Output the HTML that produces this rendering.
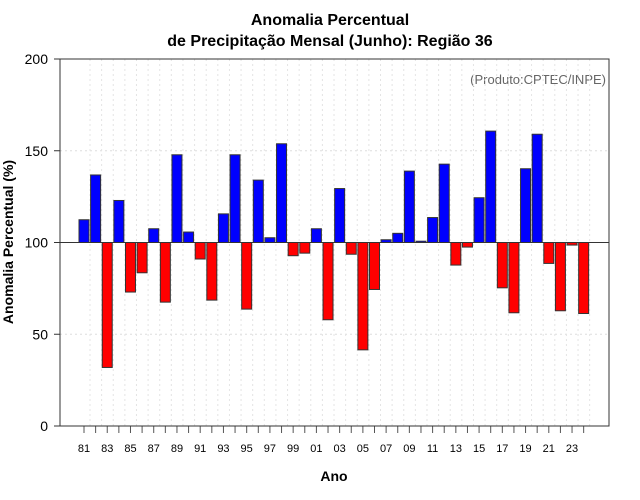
<!DOCTYPE html>
<html><head><meta charset="utf-8"><style>
body{margin:0;background:#fff;}
svg{display:block;font-family:"Liberation Sans",sans-serif;}
</style></head><body>
<svg id="chart" width="640" height="500" viewBox="0 0 640 500">
<rect width="640" height="500" fill="#fff"/>
<text x="330" y="25" text-anchor="middle" font-size="16" font-weight="bold">Anomalia Percentual</text>
<text x="330" y="46" text-anchor="middle" font-size="16" font-weight="bold">de Precipitação Mensal (Junho): Região 36</text>
<text x="606" y="84" text-anchor="end" font-size="13" fill="#666">(Produto:CPTEC/INPE)</text>
<text transform="translate(13,242) rotate(-90)" text-anchor="middle" font-size="14" font-weight="bold">Anomalia Percentual (%)</text>
<text x="334" y="481" text-anchor="middle" font-size="14" font-weight="bold">Ano</text>
<g id="grid"></g><g id="bars"></g><g id="axes"></g>
</svg>
<script>
const years=[81,82,83,84,85,86,87,88,89,90,91,92,93,94,95,96,97,98,99,0,1,2,3,4,5,6,7,8,9,10,11,12,13,14,15,16,17,18,19,20,21,22,23,24];
const values=[112.4,136.8,31.9,122.9,73,83.5,107.5,67.5,147.8,105.7,91,68.6,115.6,147.8,63.7,134,102.6,153.8,92.8,94.2,107.5,57.9,129.4,93.6,41.5,74.4,101.5,105,138.9,100.7,113.6,142.7,87.7,97.5,124.4,160.7,75.3,61.7,140.2,159,88.6,62.8,98.6,61.3];
const yTicks=[0,50,100,150,200];
const baseline=100;
const L=60,R=609,T=59,B=426;
const NS="http://www.w3.org/2000/svg";
function y(v){return B-(v/200)*(B-T);}
function x(i){return 84+i*11.62;}
function mk(tag,attrs,parent){const e=document.createElementNS(NS,tag);for(const k in attrs)e.setAttribute(k,attrs[k]);parent.appendChild(e);return e;}
const grid=document.getElementById('grid'),bars=document.getElementById('bars'),axes=document.getElementById('axes');
yTicks.forEach(t=>{
  if(t>0&&t<200){const g=mk('line',{x1:L,x2:R,y1:y(t),y2:y(t),stroke:'#ddd','stroke-dasharray':'2,3'},grid);
  
  }
  const tk=mk('line',{x1:L-6,x2:L,y1:y(t),y2:y(t),stroke:'#333'},axes);
  
  
  const tl=mk('text',{x:L-12,y:y(t)+5,'text-anchor':'end','font-size':14},axes);
  tl.textContent=t;
  
  
});
years.forEach((yr,i)=>{
  const g=mk('line',{x1:x(i)+6,x2:x(i)+6,y1:T,y2:B,stroke:'#e4e4e4','stroke-dasharray':'2,3'},grid);
  
  
  const v=values[i];
  const top=y(Math.max(v,baseline)),bot=y(Math.min(v,baseline));
  const r=mk('rect',{x:x(i)-5,y:top,width:10,height:Math.max(bot-top,0.5),fill:v>=baseline?'#0000ff':'#ff0000',stroke:'#333','stroke-width':1},bars);
  
  
  const tk=mk('line',{x1:x(i),x2:x(i),y1:B,y2:B+7,stroke:'#555'},axes);
  
  
  if(i%2===0){const tl=mk('text',{x:x(i),y:B+26,'text-anchor':'middle','font-size':11},axes);
  tl.textContent=String(yr).padStart(2,'0');
  
  }
});
const bl=mk('line',{x1:L,x2:R,y1:y(baseline),y2:y(baseline),stroke:'#333','stroke-width':1},axes);


const box=mk('rect',{x:L,y:T,width:R-L,height:B-T,fill:'none',stroke:'#333','stroke-width':1},axes);


</script>
</body></html>
